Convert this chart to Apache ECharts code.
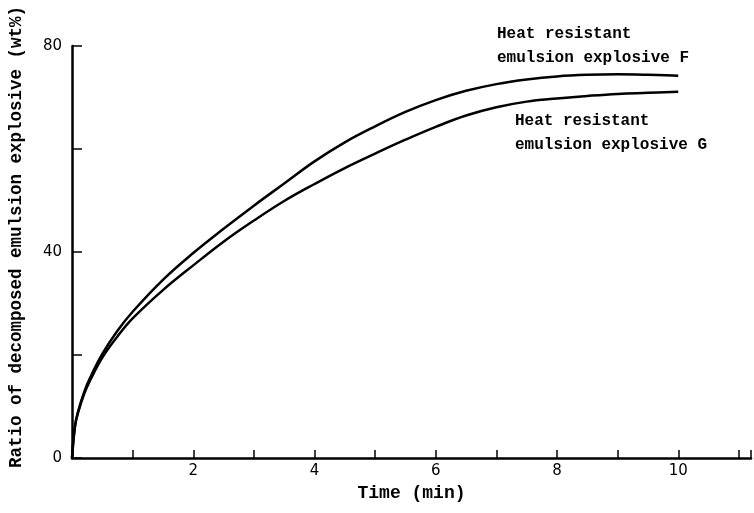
<!DOCTYPE html>
<html>
<head>
<meta charset="utf-8">
<script src="https://cdn.jsdelivr.net/npm/echarts@6/dist/echarts.min.js"></script>
<style>
  html, body { margin: 0; padding: 0; background: #fff; }
  #chart { width: 754px; height: 513px; }
</style>
</head>
<body>
<div id="chart"></div>
<script>
// time (min)
const times = [0, 0.05, 0.1, 0.2, 0.3, 0.5, 0.75, 1, 1.5, 2, 2.5, 3, 3.5, 4, 4.5, 5, 5.5, 6, 6.5, 7, 7.5, 8, 8.5, 9, 9.5, 10];
// ratio of decomposed emulsion explosive (wt%)
const explosiveF = [0, 6.3, 9, 12.8, 15.6, 20.2, 24.7, 28.4, 34.6, 39.8, 44.5, 49, 53.3, 57.6, 61.3, 64.4, 67.2, 69.5, 71.3, 72.6, 73.5, 74.1, 74.4, 74.5, 74.4, 74.2];
const explosiveG = [0, 6.2, 8.8, 12.4, 15.1, 19.5, 23.6, 27.1, 32.6, 37.4, 42, 46.1, 49.9, 53.2, 56.3, 59.1, 61.8, 64.3, 66.5, 68.1, 69.2, 69.8, 70.3, 70.7, 70.9, 71.1];
const xLabels = [2, 4, 6, 8, 10];
const yLabels = [0, 40, 80];

const monoBold = { fontFamily: "Liberation Mono", fontWeight: "bold", color: "#000" };

const chart = echarts.init(document.getElementById("chart"));

const option = {
  animation: false,
  backgroundColor: "#fff",
  grid: { left: 72, right: 0, top: 46, bottom: 55 },
  xAxis: {
    type: "value",
    min: 0,
    max: 11.2,
    interval: 1,
    name: "Time (min)",
    nameLocation: "middle",
    nameGap: 26,
    nameTextStyle: { ...monoBold, fontSize: 18 },
    axisLine: { lineStyle: { color: "#000", width: 2.5 } },
    axisTick: { inside: true, length: 8, lineStyle: { color: "#000", width: 1.5 } },
    axisLabel: {
      margin: 6,
      fontFamily: "DejaVu Sans",
      fontSize: 15,
      color: "#000",
      formatter: v => (xLabels.includes(v) ? String(v) : "")
    },
    splitLine: { show: false }
  },
  yAxis: {
    type: "value",
    min: 0,
    max: 80,
    interval: 20,
    name: "Ratio of decomposed emulsion explosive (wt%)",
    nameLocation: "middle",
    nameGap: 46,
    nameTextStyle: { ...monoBold, fontSize: 17.5, padding: [0, 0, 0, 30] },
    axisLine: { show: true, lineStyle: { color: "#000", width: 2.5 } },
    axisTick: { show: true, inside: true, length: 10, lineStyle: { color: "#000", width: 1.5 } },
    axisLabel: {
      margin: 10,
      fontFamily: "DejaVu Sans",
      fontSize: 15,
      color: "#000",
      formatter: v => (yLabels.includes(v) ? String(v) : "")
    },
    splitLine: { show: false }
  },
  graphic: [
    {
      type: "text",
      left: 497,
      top: 22,
      style: {
        text: "Heat resistant\nemulsion explosive F",
        font: "bold 16px 'Liberation Mono'",
        lineHeight: 24,
        fill: "#000"
      }
    },
    {
      type: "text",
      left: 515,
      top: 109,
      style: {
        text: "Heat resistant\nemulsion explosive G",
        font: "bold 16px 'Liberation Mono'",
        lineHeight: 24,
        fill: "#000"
      }
    }
  ],
  series: [
    {
      name: "Heat resistant emulsion explosive F",
      type: "line",
      smooth: 0.4,
      symbol: "none",
      lineStyle: { color: "#000", width: 2.5 },
      data: times.map((t, i) => [t, explosiveF[i]])
    },
    {
      name: "Heat resistant emulsion explosive G",
      type: "line",
      smooth: 0.4,
      symbol: "none",
      lineStyle: { color: "#000", width: 2.5 },
      data: times.map((t, i) => [t, explosiveG[i]])
    }
  ]
};

chart.setOption(option);
</script>
</body>
</html>
